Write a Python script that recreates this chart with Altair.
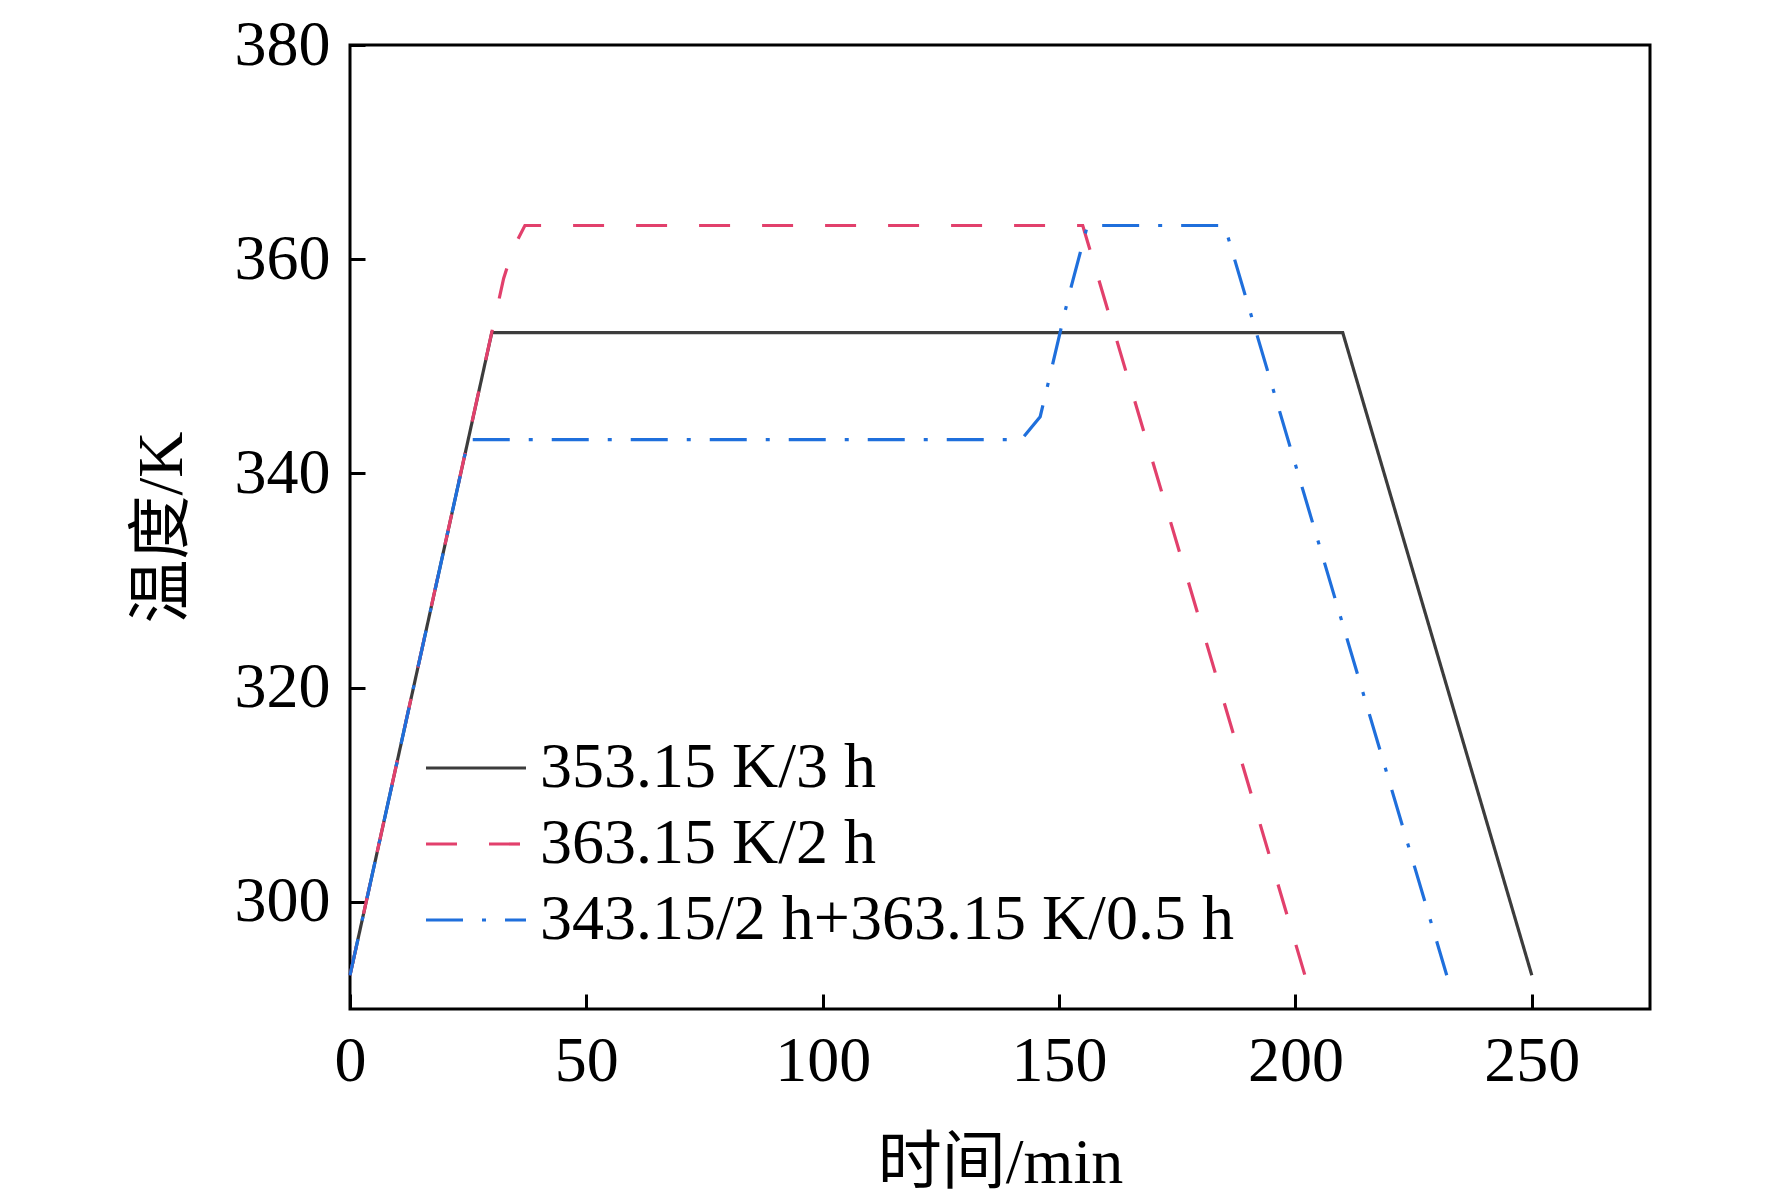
import altair as alt
import pandas as pd

series_names = ["353.15 K/3 h", "363.15 K/2 h", "343.15/2 h+363.15 K/0.5 h"]

t_a = [0, 30, 210, 250]
T_a = [293.15, 353.15, 353.15, 293.15]

t_b = [0, 32.5, 34.5, 37, 155, 202]
T_b = [293.15, 358.2, 361.0, 363.15, 363.15, 293.15]

t_c = [0, 25, 142, 146, 148, 152, 156, 185, 232]
T_c = [293.15, 343.15, 343.15, 345.3, 349.0, 356.5, 363.15, 363.15, 293.15]

x_ticks = [0, 50, 100, 150, 200, 250]
y_ticks = [300, 320, 340, 360, 380]

colors = ["#3c3c3c", "#e2406c", "#1f6fdc"]
dashes = [[1, 0], [31, 32], [37, 19, 4, 19]]

rows = []
for name, ts, Ts in zip(series_names, [t_a, t_b, t_c], [T_a, T_b, T_c]):
    for i, (t, T) in enumerate(zip(ts, Ts)):
        rows.append({"series": name, "t": t, "T": T, "order": i})
df = pd.DataFrame(rows)

SERIF = "Liberation Serif, Noto Sans CJK SC"

legend = alt.Legend(
    title=None,
    orient="none",
    legendX=74,
    legendY=691,
    symbolType="stroke",
    symbolSize=10000,
    symbolStrokeWidth=3.2,
    clipHeight=64,
    labelFontSize=64,
    labelFont="Liberation Serif",
    labelColor="black",
    labelLimit=1500,
    labelOffset=12,
    rowPadding=12,
    padding=0,
)

chart = alt.Chart(df).mark_line(strokeWidth=3.2).encode(
    x=alt.X(
        "t:Q",
        scale=alt.Scale(domain=[0, 275], nice=False, zero=False),
        axis=alt.Axis(
            values=x_ticks,
            title="时间/min",
            format="d",
            domain=False,
            grid=False,
            offset=-15,
            tickSize=15,
            tickWidth=3,
            tickColor="black",
            labelFontSize=64,
            labelFont="Liberation Serif",
            labelColor="black",
            labelPadding=20,
            labelFlush=False,
            titleFontSize=64,
            titleFont=SERIF,
            titleFontWeight="normal",
            titleColor="black",
            titlePadding=38,
        ),
    ),
    y=alt.Y(
        "T:Q",
        scale=alt.Scale(domain=[290, 380], nice=False, zero=False),
        axis=alt.Axis(
            values=y_ticks,
            title="温度/K",
            format="d",
            domain=False,
            grid=False,
            offset=-15,
            tickSize=15,
            tickWidth=3,
            tickColor="black",
            labelFontSize=64,
            labelFont="Liberation Serif",
            labelColor="black",
            labelPadding=20,
            labelFlush=False,
            titleFontSize=64,
            titleFont=SERIF,
            titleFontWeight="normal",
            titleColor="black",
            titlePadding=40,
        ),
    ),
    color=alt.Color(
        "series:N",
        scale=alt.Scale(domain=series_names, range=colors),
        sort=series_names,
        legend=legend,
    ),
    strokeDash=alt.StrokeDash(
        "series:N",
        scale=alt.Scale(domain=series_names, range=dashes),
        sort=series_names,
        legend=legend,
    ),
    order="order:Q",
).properties(
    width=1300,
    height=964,
    background="white",
    autosize=alt.AutoSizeParams(type="none"),
    padding={"left": 342, "top": 37, "right": 100, "bottom": 186},
).configure_view(
    stroke="black",
    strokeWidth=3,
)

chart.save("out.html", embed_options={"renderer": "svg", "actions": False})
